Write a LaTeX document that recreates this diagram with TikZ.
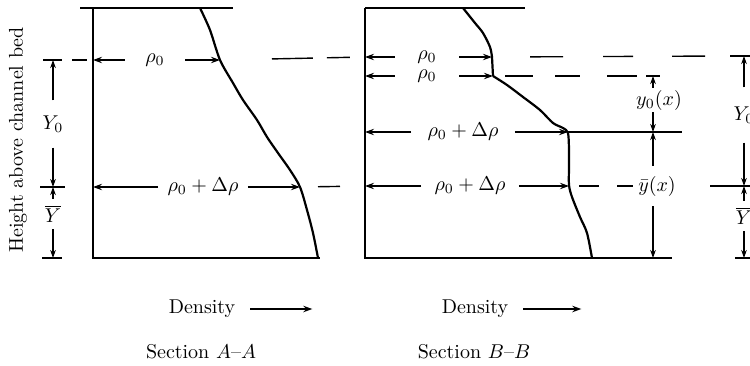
\documentclass[tikz,border=0pt]{standalone}
\usepackage{amsmath}
\usepackage{tikz}
\usetikzlibrary{arrows.meta,positioning,calc}
\tikzset{
  frame/.style={line width=1pt},
  prof/.style={line width=1.1pt,line join=round},
  arr/.style={-{Stealth[length=4.5pt,width=3.2pt]},line width=0.6pt},
  dim/.style={-{Stealth[length=4pt,width=2.8pt]},line width=0.6pt},
  guide/.style={line width=0.7pt},
  lbl/.style={inner ysep=0pt,font=\normalsize},
  dimlbl/.style={inner xsep=0pt,font=\normalsize}
}

\begin{document}
\begin{tikzpicture}[x=0.5pt,y=-0.5pt]
  \useasboundingbox (0,0) rectangle (750,365);
  \clip (0,0) rectangle (750,365);

  % Section A-A
  \draw[frame] (80,8) -- (233,8);
  \draw[frame] (93,8) -- (93,258) -- (320,258);
  \draw[prof] plot[smooth,tension=0.5] coordinates {(200,8) (210,30) (220,60) (233,83) (243,100) (257,120) (267,137) (278,153) (290,170) (300,187) (307,210) (313,233) (318,258)};
  \coordinate (Aw0) at (93,60);  \coordinate (Ae0) at (220,60);
  \coordinate (Aw1) at (93,187); \coordinate (Ae1) at (300,187);

  % Section B-B
  \draw[frame] (365,8) -- (525,8);
  \draw[frame] (365,8) -- (365,258) -- (672,258);
  \draw[prof] plot[smooth,tension=0.5] coordinates {(463,8) (475,23) (483,33) (490,47) (492,57)}
    -- (493,76)
    plot[smooth,tension=0.5] coordinates {(493,76) (507,85) (523,97) (540,110) (553,123) (563,128) (568,133) (569,150) (569,167) (569,185) (572,197) (580,217) (587,233) (592,258)};
  \coordinate (Bw0) at (365,57);  \coordinate (Be0) at (492,57);
  \coordinate (Bw1) at (365,76);  \coordinate (Be1) at (493,76);
  \coordinate (Bw2) at (365,132); \coordinate (Be2) at (568,132);
  \coordinate (Bw3) at (365,186); \coordinate (Be3) at (569,186);

  % density arrows inside the sections
  \node[lbl,inner xsep=10pt] (rhoA) at (155,60) {$\rho_0$};
  \draw[arr] (rhoA.west) -- (Aw0);
  \draw[arr] (rhoA.east) -- (Ae0);
  \node[lbl,inner xsep=4.5pt] (drhoA) at (203,187) {$\rho_0+\Delta\rho$};
  \draw[arr] (drhoA.west) -- (Aw1);
  \draw[arr] (drhoA.east) -- (Ae1);

  \node[lbl,inner xsep=11pt] (rhoB) at (427,57) {$\rho_0$};
  \draw[arr] (rhoB.west) -- (Bw0);
  \draw[arr] (rhoB.east) -- (Be0);
  \node[lbl,inner xsep=11pt] (rhoBB) at (427,76) {$\rho_0$};
  \draw[arr] (rhoBB.west) -- (Bw1);
  \draw[arr] (rhoBB.east) -- (Be1);
  \node[lbl,inner xsep=8pt] (drhoB) at (463,132) {$\rho_0+\Delta\rho$};
  \draw[arr] (drhoB.west) -- (Bw2);
  \draw[arr] (drhoB.east) -- (Be2);
  \node[lbl,inner xsep=6.5pt] (drhoBB) at (470,186) {$\rho_0+\Delta\rho$};
  \draw[arr] (drhoBB.west) -- (Bw3);
  \draw[arr] (drhoBB.east) -- (Be3);

  % guide lines
  \coordinate (LT) at (53,60);  \coordinate (LM) at (53,187);  \coordinate (LB) at (53,258);
  \coordinate (RT) at (744,56); \coordinate (RM) at (744,186); \coordinate (RB) at (744,258);
  \coordinate (yT) at (653,76); \coordinate (yM) at (653,132); \coordinate (yB) at (653,258);
  \draw[guide] (43,60) -- (62,60);
  \draw[guide,dash pattern=on 7.5pt off 10pt] (72,60) -- (Aw0);
  \draw[guide,dash pattern=on 0pt off 26pt on 20.5pt off 7pt on 11.5pt off 20pt] (Ae0) -- (Bw0);
  \draw[guide,dash pattern=on 0pt off 19pt on 16.5pt off 20pt on 15pt off 19.5pt on 16.5pt off 40pt] (Be0) -- (730,56);
  \draw[guide] (730,56) -- (750,56);
  \draw[guide,dash pattern=on 0pt off 6pt on 14pt off 11pt on 12.5pt off 13.5pt on 15pt off 20pt] (Be1) -- (640,76);
  \draw[guide] (646,76) -- (660,76);
  \draw[guide] (Be2) -- (682,132);
  \draw[guide] (40,187) -- (65,187);
  \draw[guide,dash pattern=on 0pt off 9pt on 11pt off 20pt] (Ae1) -- (Bw3);
  \draw[guide,dash pattern=on 0pt off 5pt on 10pt off 9pt on 8pt off 20pt] (Be3) -- (634,186);
  \draw[guide] (710,186) -- (750,186);
  \draw[guide] (42,258) -- (62,258);
  \draw[guide] (735,258) -- (750,258);

  % dimensions
  \node[dimlbl,inner ysep=7.5pt] (Y0L) at (53,124) {$Y_0$};
  \draw[dim] (Y0L.north) -- (LT);
  \draw[dim] (Y0L.south) -- (LM);
  \node[dimlbl,inner ysep=3pt] (YbL) at (53,214) {$\overline{Y}$};
  \draw[dim] (YbL.north) -- (LM);
  \draw[dim] (YbL.south) -- (LB);

  \node[dimlbl,inner ysep=1pt] (y0x) at (659,100) {$y_0(x)$};
  \draw[dim] (y0x.north -| yT) -- (yT);
  \draw[dim] (y0x.south -| yM) -- (yM);
  \node[dimlbl,inner ysep=5pt] (ybx) at (657,186) {$\bar{y}(x)$};
  \draw[dim] (ybx.north -| yM) -- (yM);
  \draw[dim] (ybx.south -| yB) -- (yB);

  \node[dimlbl,inner ysep=9.5pt] (Y0R) at (744,115) {$Y_0$};
  \draw[dim] (Y0R.north) -- (RT);
  \draw[dim] (Y0R.south) -- (RM);
  \node[dimlbl,inner ysep=3pt] (YbR) at (744,216) {$\overline{Y}$};
  \draw[dim] (YbR.north) -- (RM);
  \draw[dim] (YbR.south) -- (RB);

  % axis texts
  \node[rotate=90] (hgt) at (18,140) {Height above channel bed};
  \node (denA) at (202,309) {Density};
  \draw[arr] (denA.east) ++(4pt,0) -- ++(62,0);
  \node (denB) at (475,309) {Density};
  \draw[arr] (denB.east) ++(4pt,0) -- ++(58,0);
  \node (secA) at (201,352) {Section $A$--$A$};
  \node (secB) at (474,352) {Section $B$--$B$};
\end{tikzpicture}
\end{document}
